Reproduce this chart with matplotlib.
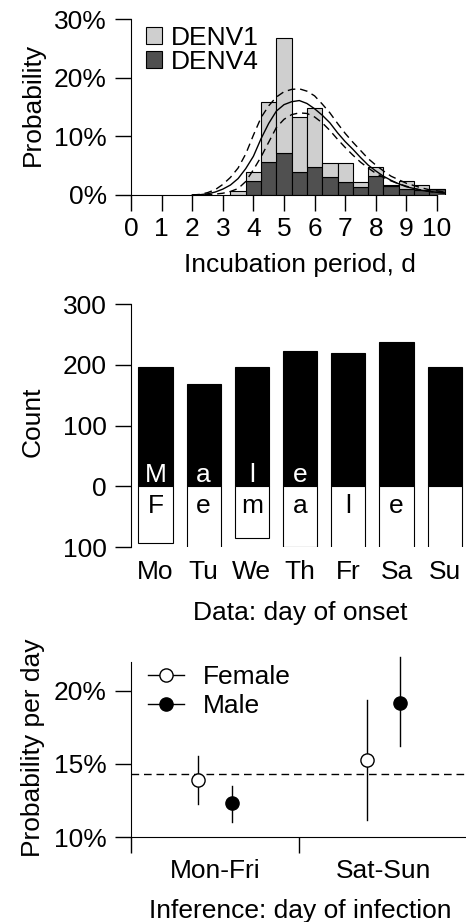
import matplotlib
matplotlib.use("Agg")
import matplotlib.pyplot as plt
import numpy as np
from matplotlib.patches import Patch
from matplotlib.lines import Line2D

plt.rcParams['font.family'] = ['Liberation Sans', 'DejaVu Sans']
FS = 19
plt.rcParams['font.size'] = FS

# --- panel 1: incubation period histogram (stacked, % of cases) ---
bin_centers = [3.5, 4.0, 4.5, 5.0, 5.5, 6.0, 6.5, 7.0, 7.5, 8.0, 8.5, 9.0, 9.5, 10.0]
denv4 = [0.0, 2.4, 5.7, 7.1, 4.0, 4.8, 3.1, 2.3, 1.4, 3.2, 1.6, 1.0, 0.85, 1.0]
denv1 = [0.7, 1.6, 10.1, 19.6, 9.3, 10.1, 2.4, 3.2, 0.9, 1.5, 0.15, 1.4, 0.85, 0.05]

# fitted curve (solid) and its bounds (dashed)
curve_x = [2.0, 2.25, 2.5, 2.75, 3.0, 3.25, 3.5, 3.75, 4.0, 4.25, 4.5, 4.75, 5.0, 5.25,
           5.5, 5.75, 6.0, 6.25, 6.5, 6.75, 7.0, 7.25, 7.5, 7.75, 8.0, 8.25, 8.5, 8.75,
           9.0, 9.25, 9.5, 9.75, 10.0, 10.25]
fit_mid = [0, 0.05, 0.2, 0.5, 1.0, 1.7, 2.8, 4.5, 6.6, 9.6, 12.2, 14.3, 15.4, 15.9,
           16.1, 15.6, 14.7, 13.6, 12.3, 10.6, 9.1, 7.8, 6.4, 5.1, 4.1, 3.2, 2.5, 1.9,
           1.4, 1.1, 0.8, 0.6, 0.45, 0.35]
fit_hi = [0, 0.1, 0.4, 0.9, 1.8, 3.0, 4.6, 7.0, 10.2, 13.2, 15.2, 16.7, 17.6, 18.0,
          18.1, 17.7, 16.9, 15.5, 14.0, 12.2, 10.5, 9.0, 7.6, 6.2, 5.1, 4.1, 3.2, 2.6,
          2.0, 1.6, 1.2, 0.9, 0.7, 0.5]
fit_lo = [0, 0, 0.05, 0.15, 0.3, 0.6, 1.1, 2.3, 4.3, 6.5, 9.0, 11.5, 12.9, 13.7,
          14.0, 13.9, 13.3, 12.3, 11.0, 9.5, 8.1, 6.8, 5.6, 4.6, 3.7, 3.0, 2.4, 1.9,
          1.5, 1.1, 0.85, 0.6, 0.45, 0.3]

# --- panel 2: counts by day of onset ---
days = ['Mo', 'Tu', 'We', 'Th', 'Fr', 'Sa', 'Su']
male_counts = [196, 169, 197, 223, 219, 237, 196]
female_counts = [93, 108, 85, 99, 102, 107, 103]
male_letters = ['M', 'a', 'l', 'e', '', '', '']
female_letters = ['F', 'e', 'm', 'a', 'l', 'e', '']

# --- panel 3: inferred day of infection ---
groups = ['Mon-Fri', 'Sat-Sun']
female_p = [13.9, 15.24]
female_lo = [12.23, 11.16]
female_hi = [15.53, 19.36]
male_p = [12.3, 19.2]
male_lo = [11.05, 16.23]
male_hi = [13.48, 22.3]
uniform_p = 100 / 7

W, H = 466, 922
fig = plt.figure(figsize=(W / 100, H / 100), dpi=100)


def frac(left, top, right, bottom):
    return [left / W, 1 - bottom / H, (right - left) / W, (bottom - top) / H]


def ftext(x, y, s, **kw):
    # place text at pixel coordinates (origin top-left)
    fig.text(x / W, 1 - y / H, s, **kw)


def ylab(x, y, s):
    fig.text(x / W, 1 - y / H, s, rotation=90, rotation_mode='anchor',
             ha='center', va='baseline')


tick_kw = dict(direction='out', length=11.5, width=1.0)
dash = (0, (5.5, 3.5))

# ===== top panel =====
ax1 = fig.add_axes(frac(131, 19, 131 + 10.5 * 30.6, 195))
ax1.bar(bin_centers, denv4, width=0.5, color='#505050', edgecolor='black', lw=0.8)
ax1.bar(bin_centers, denv1, width=0.5, bottom=denv4, color='#cfcfcf',
        edgecolor='black', lw=0.8)
ax1.plot(curve_x, fit_mid, color='black', lw=1.0)
ax1.plot(curve_x, fit_hi, color='black', lw=1.0, ls=dash)
ax1.plot(curve_x, fit_lo, color='black', lw=1.0, ls=dash)
ax1.set_xlim(0, 10.5)
ax1.set_ylim(0, 30)
for s in ['top', 'right']:
    ax1.spines[s].set_visible(False)
ax1.spines['left'].set_bounds(0, 30)
ax1.spines['bottom'].set_bounds(0, 10)
ax1.set_xticks(range(11))
ax1.set_yticks([0, 10, 20, 30])
ax1.set_yticklabels(['0%', '10%', '20%', '30%'])
ax1.tick_params(**tick_kw)
ax1.tick_params(axis='x', pad=4.7)
ax1.tick_params(axis='y', pad=5.8)
ftext(300, 272, 'Incubation period, d', ha='center', va='baseline')
ylab(40, 104, 'Probability')
ax1.legend(handles=[Patch(facecolor='#cfcfcf', edgecolor='black', lw=0.8, label='DENV1'),
                    Patch(facecolor='#505050', edgecolor='black', lw=0.8, label='DENV4')],
           loc='upper left', bbox_to_anchor=(146 / W, 1 - 26 / H),
           bbox_transform=fig.transFigure, frameon=False, borderpad=0,
           handlelength=0.6, handleheight=0.6, handletextpad=0.36, labelspacing=0.0,
           borderaxespad=0, fontsize=FS)

# ===== middle panel =====
xpos = np.arange(len(days))
ax2 = fig.add_axes(frac(131, 304, 131 + 6.908 * 48.2, 547.3))
ax2.bar(xpos, male_counts, width=0.71, color='black', edgecolor='black', lw=0.8)
ax2.bar(xpos, [-v for v in female_counts], width=0.71, color='white',
        edgecolor='black', lw=0.8)
for x, m, f in zip(xpos, male_letters, female_letters):
    ax2.text(x, 8, m, color='white', ha='center', va='baseline')
    ax2.text(x, -44, f, color='black', ha='center', va='baseline')
ax2.set_xlim(-0.508, 6.4)
ax2.set_ylim(-100, 300)
for s in ['top', 'right', 'bottom']:
    ax2.spines[s].set_visible(False)
ax2.spines['left'].set_bounds(-100, 300)
ax2.set_yticks([-100, 0, 100, 200, 300])
ax2.set_yticklabels(['100', '0', '100', '200', '300'])
ax2.set_xticks(xpos)
ax2.set_xticklabels(days)
ax2.tick_params(axis='y', pad=5.8, **tick_kw)
ax2.tick_params(axis='x', length=0, pad=9.5)
ftext(300, 620, 'Data: day of onset', ha='center', va='baseline')
ylab(40, 422, 'Count')

# ===== bottom panel =====
ax3 = fig.add_axes(frac(131, 661.7, 131 + 2 * 168.3, 837))
ax3.axhline(uniform_p, color='black', lw=1.0, ls=dash)
off = 0.1
for i in range(len(groups)):
    ax3.plot([i + 0.5 - off] * 2, [female_lo[i], female_hi[i]], color='black', lw=1.0)
    ax3.plot([i + 0.5 + off] * 2, [male_lo[i], male_hi[i]], color='black', lw=1.0,
             clip_on=False)
ax3.plot([g + 0.5 - off for g in range(len(groups))], female_p, 'o', ms=9.5,
         mfc='white', mec='black', mew=1.0, clip_on=False, zorder=5)
ax3.plot([g + 0.5 + off for g in range(len(groups))], male_p, 'o', ms=9.5,
         mfc='black', mec='black', mew=1.0, clip_on=False, zorder=5)
ax3.set_xlim(0, 2)
ax3.set_ylim(10, 22)
for s in ['top', 'right']:
    ax3.spines[s].set_visible(False)
ax3.spines['left'].set_bounds(10, 22)
ax3.set_yticks([10, 15, 20])
ax3.set_yticklabels(['10%', '15%', '20%'])
ax3.set_xticks([0, 1, 2])
ax3.set_xticklabels([])
ax3.set_xticks([0.5, 1.5], minor=True)
ax3.set_xticklabels(groups, minor=True)
ax3.tick_params(axis='both', which='major', **tick_kw)
ax3.tick_params(axis='y', pad=5.8)
ax3.tick_params(axis='x', which='minor', length=0, pad=15.5)
ftext(300, 918, 'Inference: day of infection', ha='center', va='baseline')
ylab(40, 748, 'Probability per day')
ax3.legend(handles=[Line2D([], [], color='black', lw=1.0, marker='o', ms=9.5,
                           mfc='white', mec='black', label='Female'),
                    Line2D([], [], color='black', lw=1.0, marker='o', ms=9.5,
                           mfc='black', mec='black', label='Male')],
           loc='upper left', bbox_to_anchor=(148 / W, 1 - 665 / H),
           bbox_transform=fig.transFigure, frameon=False, borderpad=0,
           handlelength=1.36, handletextpad=0.72, labelspacing=0.2,
           borderaxespad=0, fontsize=FS)

fig.savefig('out.png', dpi=100)
